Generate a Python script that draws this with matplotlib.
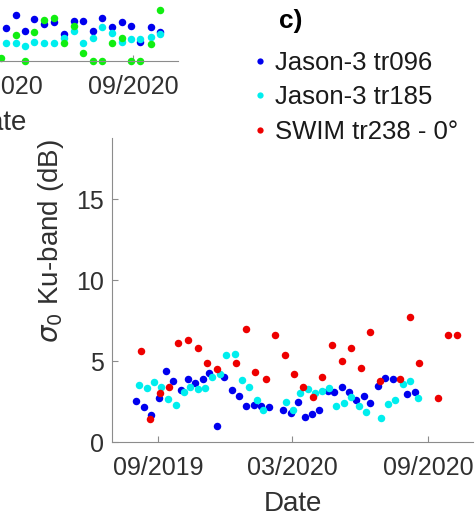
import matplotlib
matplotlib.use('Agg')
import matplotlib.pyplot as plt
import matplotlib.dates as mdates
from matplotlib.lines import Line2D
import pandas as pd

plt.rcParams['font.family'] = ['Liberation Sans', 'DejaVu Sans']
plt.rcParams['mathtext.fontset'] = 'dejavusans'

# ---------------- data: panel c ----------------
j096_dates = ['2019-08-03', '2019-08-13', '2019-08-23', '2019-09-02', '2019-09-12', '2019-09-22',
              '2019-10-02', '2019-10-12', '2019-10-22', '2019-11-01', '2019-11-10', '2019-11-20',
              '2019-11-30', '2019-12-10', '2019-12-20', '2019-12-30', '2020-01-09', '2020-01-19',
              '2020-01-29', '2020-02-18', '2020-02-28', '2020-03-09', '2020-03-18', '2020-03-28',
              '2020-04-07', '2020-04-18', '2020-04-27', '2020-05-07', '2020-05-17', '2020-05-27',
              '2020-06-06', '2020-06-15', '2020-06-25', '2020-07-05', '2020-07-15', '2020-08-03',
              '2020-08-14']
j096_vals = [2.55, 2.15, 1.65, 2.75, 4.4, 3.8, 3.2, 3.9, 3.65, 3.9, 4.25, 1.0,
             4.0, 3.2, 2.85, 2.2, 2.3, 2.25, 2.15, 2.0, 1.8, 2.45, 1.55, 1.75,
             2.0, 3.15, 3.1, 3.4, 3.1, 2.6, 2.85, 2.4, 3.45, 3.95, 3.9, 2.95, 3.1]

j185_dates = ['2019-08-07', '2019-08-17', '2019-08-27', '2019-09-05', '2019-09-15', '2019-09-26',
              '2019-10-06', '2019-10-15', '2019-10-25', '2019-11-04', '2019-11-14', '2019-11-24',
              '2019-12-03', '2019-12-14', '2019-12-24', '2020-01-03', '2020-01-13', '2020-01-22',
              '2020-02-22', '2020-03-02', '2020-03-12', '2020-03-22', '2020-04-01', '2020-04-10',
              '2020-04-20', '2020-04-30', '2020-05-10', '2020-05-20', '2020-05-30', '2020-06-09',
              '2020-06-29', '2020-07-09', '2020-07-19', '2020-07-29', '2020-08-07', '2020-08-18']
j185_vals = [3.55, 3.35, 3.7, 3.4, 2.65, 2.3, 3.1, 3.4, 3.3, 3.35, 4.05, 4.2,
             5.4, 5.45, 3.85, 3.4, 2.6, 2.0, 2.45, 2.0, 3.0, 3.25, 3.0, 3.15,
             3.35, 2.2, 2.4, 2.8, 2.2, 1.85, 1.5, 2.35, 2.6, 3.6, 3.75, 2.7]

swim_dates = ['2019-08-09', '2019-08-21', '2019-09-04', '2019-09-16', '2019-09-29', '2019-10-12',
              '2019-10-25', '2019-11-07', '2019-11-20', '2019-12-16', '2019-12-29', '2020-01-11',
              '2020-01-25', '2020-02-07', '2020-02-20', '2020-03-03', '2020-03-16', '2020-03-29',
              '2020-04-11', '2020-04-24', '2020-05-07', '2020-05-20', '2020-06-02', '2020-06-15',
              '2020-06-28', '2020-07-25', '2020-08-07', '2020-08-20', '2020-09-15', '2020-09-28',
              '2020-10-11']
swim_vals = [5.6, 1.4, 3.0, 3.4, 6.1, 6.3, 5.8, 4.9, 4.5, 4.9, 7.0, 4.3,
             3.9, 6.6, 5.4, 4.2, 3.4, 2.8, 4.0, 6.0, 5.0, 5.8, 4.6, 6.8,
             3.8, 3.9, 7.7, 4.9, 2.7, 6.6, 6.6]

series_labels = ['Jason-3 tr096', 'Jason-3 tr185', 'SWIM tr238 - 0°']
series_colors = ['#0000ee', '#00eeee', '#ee0000']

# ---------------- data: neighbouring panel (partly visible) ----------------
b_dates = ['2020-03-13', '2020-03-26', '2020-04-08', '2020-04-20', '2020-05-04', '2020-05-17',
           '2020-05-30', '2020-06-13', '2020-06-25', '2020-07-09', '2020-07-21', '2020-08-04',
           '2020-08-17', '2020-08-29', '2020-09-11', '2020-09-25', '2020-10-07']
b_blue = [2.03, 2.85, 1.86, 2.6, 2.29, 2.4, 1.66, 2.5, 2.5, 1.86, 2.65, 2.09,
          2.44, 2.19, 1.2, 2.13, 1.82]
b_cyan = [1.1, 1.1, 0.93, 1.2, 1.13, 1.1, 1.41, 1.86, 1.1, 1.41, 2.09, 1.72,
          1.16, 1.35, 1.35, 1.51, 1.66]
b_green_dates = ['2020-03-06'] + b_dates[1:]
b_green = [0.19, 1.61, 0.0, 1.78, 2.54, 2.68, 1.13, 2.19, 0.51, 0.0, 0.0, 1.1,
           1.41, 0.0, 0.0, 1.04, 3.16]

x_ticks = ['2019-09-01', '2020-03-01', '2020-09-01']
x_range = ['2019-07-01', '2020-11-01']
y_ticks = [0, 5, 10, 15]
y_range = [0, 18.8]

W, H = 477, 513
fig = plt.figure(figsize=(W / 100, H / 100), dpi=100)

spine_col = '#8c8c8c'
text_col = '#303030'


def style_axes(ax):
    for s in ['top', 'right']:
        ax.spines[s].set_visible(False)
    for s in ['left', 'bottom']:
        ax.spines[s].set_color(spine_col)
        ax.spines[s].set_linewidth(0.8)
    ax.set_xlim(pd.to_datetime(x_range))
    ax.set_ylim(y_range)
    ax.set_xticks(pd.to_datetime(x_ticks))
    ax.xaxis.set_major_formatter(mdates.DateFormatter('%m/%Y'))
    ax.set_yticks(y_ticks)
    ax.tick_params(direction='in', length=4, width=0.8, color=spine_col,
                   labelcolor=text_col, labelsize=18)
    ax.tick_params(axis='x', pad=10)
    ax.tick_params(axis='y', pad=6)
    ax.set_xlabel('Date', fontsize=20, color=text_col)
    ax.xaxis.set_label_coords(0.5, -0.16)


def px_axes(l, t, r, b):
    return fig.add_axes([l / W, 1 - b / H, (r - l) / W, (b - t) / H])


ms = 5.4

# neighbouring panel, mostly outside the canvas
axb = px_axes(-183, 61 - 304, 178, 61)
style_axes(axb)
axb.plot(pd.to_datetime(b_dates), b_blue, 'o', color=series_colors[0], ms=ms, mew=0, clip_on=False)
axb.plot(pd.to_datetime(b_dates), b_cyan, 'o', color=series_colors[1], ms=ms, mew=0, clip_on=False)
axb.plot(pd.to_datetime(b_green_dates), b_green, 'o', color='#11ee11', ms=ms, mew=0, clip_on=False)

# main panel c
ax = px_axes(112, 138, 473, 442)
style_axes(ax)
for d, v, c in zip([j096_dates, j185_dates, swim_dates],
                   [j096_vals, j185_vals, swim_vals], series_colors):
    ax.plot(pd.to_datetime(d), v, 'o', color=c, ms=ms, mew=0, clip_on=False)

fig.text(51.5 / W, 1 - 241 / H, r'$\sigma_0$ Ku-band (dB)', rotation=90,
         ha='center', va='center', fontsize=20, color=text_col)

fig.text(291 / W, 1 - 21 / H, 'c)', ha='center', va='center',
         fontsize=19, fontweight='bold', color='black')

handles = [Line2D([], [], ls='none', marker='o', ms=4.5, mew=0, color=c) for c in series_colors]
fig.legend(handles, series_labels, loc='upper left',
           bbox_to_anchor=(253.5 / W, 1 - 51 / H), frameon=False,
           fontsize=18.5, handlelength=0.5, handletextpad=0.35,
           labelspacing=0.4, borderpad=0, borderaxespad=0,
           labelcolor='#1a1a1a')

fig.savefig('out.png', dpi=100)
